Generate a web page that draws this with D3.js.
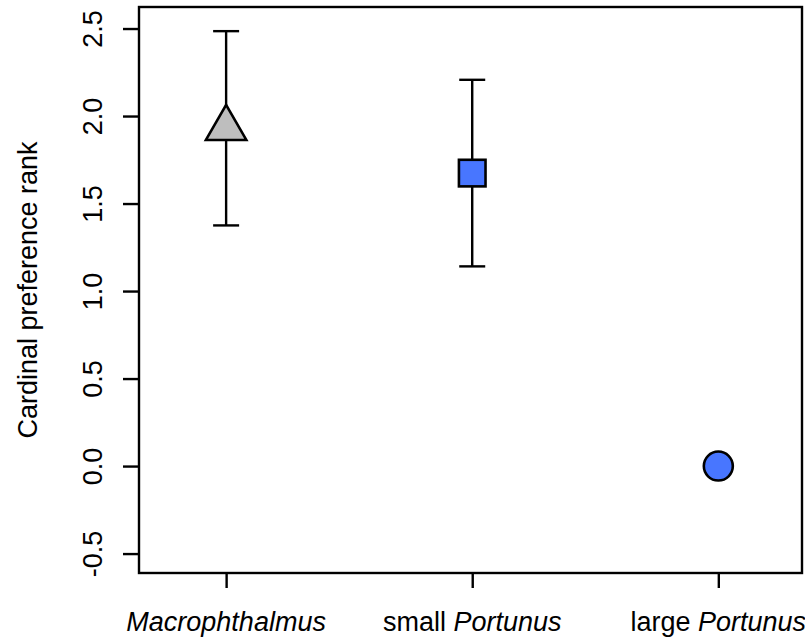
<!DOCTYPE html>
<html>
<head>
<meta charset="utf-8">
<script src="https://cdn.jsdelivr.net/npm/d3@7"></script>
<style>
  body { margin: 0; background: #fff; }
  text { font-family: "Liberation Sans", Arial, sans-serif; }
</style>
</head>
<body>
<svg id="chart" width="805" height="638"></svg>
<script>
// data
const groups = ["Macrophthalmus", "small Portunus", "large Portunus"];
const labelParts = [
  [["Macrophthalmus", true]],
  [["small ", false], ["Portunus", true]],
  [["large ", false], ["Portunus", true]]
];
const means = [1.93, 1.674, 0.0];
const errors = [0.555, 0.533, 0];
const shapes = ["triangle", "square", "circle"];
const fills = ["#bebebe", "#4876ff", "#4876ff"];
const yTicks = [-0.5, 0.0, 0.5, 1.0, 1.5, 2.0, 2.5];

const svg = d3.select("#chart");
const plotL = 139, plotR = 802, plotT = 7, plotB = 573;

const x = d3.scaleLinear().domain([0.646, 3.34]).range([plotL, plotR]);
const y = d3.scaleLinear().domain([-0.611, 2.623]).range([plotB, plotT]);

const fs = 27;
const lw = 2.4;

// box
svg.append("rect")
  .attr("x", plotL).attr("y", plotT)
  .attr("width", plotR - plotL).attr("height", plotB - plotT)
  .attr("fill", "none").attr("stroke", "#000").attr("stroke-width", lw);

// y axis
const yAxis = svg.append("g").attr("transform", `translate(${plotL},0)`)
  .call(d3.axisLeft(y).tickValues(yTicks).tickSize(16)
    .tickFormat(d => d3.format(".1f")(d).replace("\u2212", "-")));
yAxis.select(".domain").remove();
yAxis.selectAll(".tick line").attr("stroke-width", lw);
yAxis.selectAll(".tick text")
  .attr("x", null)
  .attr("dy", null)
  .attr("text-anchor", "middle")
  .attr("font-size", fs).attr("font-family", null)
  .attr("fill", "#000")
  .attr("transform", "translate(-37,0) rotate(-90)");

// x axis
const xAxis = svg.append("g").attr("transform", `translate(0,${plotB})`)
  .call(d3.axisBottom(x).tickValues([1, 2, 3]).tickSize(15).tickFormat(""));
xAxis.select(".domain").remove();
xAxis.selectAll(".tick line").attr("stroke-width", lw);

svg.append("g").selectAll("text")
  .data(labelParts)
  .join("text")
  .attr("x", (d, i) => x(i + 1))
  .attr("y", 631)
  .attr("text-anchor", "middle")
  .attr("font-size", fs)
  .each(function (parts) {
    d3.select(this).selectAll("tspan").data(parts).join("tspan")
      .attr("font-style", p => p[1] ? "italic" : "normal")
      .text(p => p[0]);
  });

// y label
svg.append("text")
  .attr("transform", `translate(37,${(plotT + plotB) / 2}) rotate(-90)`)
  .attr("text-anchor", "middle")
  .attr("font-size", fs)
  .text("Cardinal preference rank");

// error bars
const pts = groups.map((g, i) => ({ g, i, m: means[i], e: errors[i], shape: shapes[i], fill: fills[i] }));
const bars = svg.append("g").attr("stroke", "#000").attr("stroke-width", lw);
pts.filter(d => d.e > 0).forEach(d => {
  const cx = x(d.i + 1);
  bars.append("line").attr("x1", cx).attr("x2", cx).attr("y1", y(d.m - d.e)).attr("y2", y(d.m + d.e));
  [d.m - d.e, d.m + d.e].forEach(v => {
    bars.append("line").attr("x1", cx - 13).attr("x2", cx + 13).attr("y1", y(v)).attr("y2", y(v));
  });
});

// markers
const s = 15;
const marks = svg.append("g");
pts.forEach(d => {
  const cx = x(d.i + 1), cy = y(d.m);
  let el;
  if (d.shape === "triangle") {
    const r = 1.555 * s, xc = 1.347 * s, yc = 0.778 * s;
    el = marks.append("path")
      .attr("d", `M${cx},${cy - r}L${cx + xc},${cy + yc}L${cx - xc},${cy + yc}Z`);
  } else if (d.shape === "square") {
    const h = 13.3;
    el = marks.append("rect").attr("x", cx - h).attr("y", cy - h).attr("width", 2 * h).attr("height", 2 * h);
  } else {
    el = marks.append("circle").attr("cx", cx).attr("cy", cy).attr("r", 14.5);
  }
  el.attr("fill", d.fill).attr("stroke", "#000").attr("stroke-width", 2.6).attr("stroke-linejoin", "miter");
});
</script>
</body>
</html>
